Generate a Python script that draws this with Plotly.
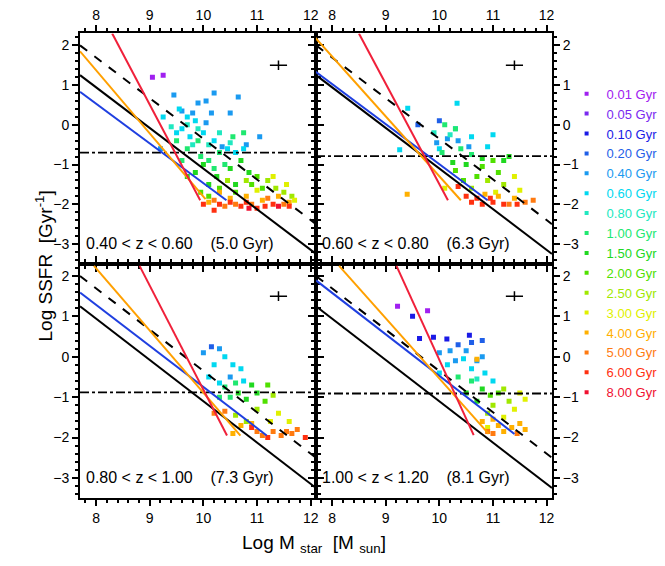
import plotly.graph_objects as go

# ── Age classes (legend) ──────────────────────────────────────────────────────
AGES = ["0.01", "0.05", "0.10", "0.20", "0.40", "0.60", "0.80", "1.00",
        "1.50", "2.00", "2.50", "3.00", "4.00", "5.00", "6.00", "8.00"]
COLORS = ["#a020f0", "#7a2af0", "#1a1ae6", "#1f5fe8", "#1a9af0", "#00d8f0",
          "#20e8c0", "#20e870", "#20d820", "#50e000", "#a0e800", "#e0f000",
          "#ffb000", "#ff7a10", "#ff3010", "#f01030"]

# ── Galaxies per panel: (log Mstar, log SSFR, age index) ──────────────────────
P1 = [(9.05,1.2,0),(9.25,1.25,0),
      (9.45,0.75,4),(9.9,0.55,4),(10.05,0.6,4),(10.2,0.8,4),(10.65,0.7,4),(9.8,0.3,4),(10.15,0.3,4),
      (10.5,0.3,4),(9.6,0.35,4),(10.05,0.05,4),(11.05,-0.3,4),(10.8,-0.5,4),(10.35,-0.55,4),(9.2,-0.6,4),
      (9.25,0.2,5),(9.55,0.4,5),(9.7,0.2,5),(9.85,0.1,5),(9.6,-0.1,5),(9.75,-0.3,5),(10.0,-0.2,5),
      (10.2,-0.4,5),(10.45,-0.6,5),(10.6,-0.7,5),(10.75,-0.6,5),(9.5,-0.2,5),
      (9.4,-0.05,6),(9.7,0.0,6),(9.9,-0.1,6),(10.1,-0.5,6),(10.3,-0.2,6),(10.5,-0.45,6),(9.8,-0.5,6),
      (9.5,-0.4,7),(9.7,-0.6,7),(9.95,-0.8,7),(10.1,-0.9,7),(10.3,-0.7,7),(10.55,-0.3,7),(10.75,-0.2,7),
      (9.6,-0.9,7),(9.9,-0.4,7),(10.2,-1.1,7),(10.4,-1.0,7),
      (10.0,-1.0,8),(10.25,-1.3,8),(10.5,-1.1,8),(10.7,-0.9,8),(10.85,-1.2,8),(9.85,-1.2,8),(10.1,-1.5,8),
      (10.6,-1.5,8),(9.7,-1.3,8),
      (10.3,-1.6,9),(10.6,-1.7,9),(10.9,-1.5,9),(11.0,-1.3,9),(10.1,-1.8,9),(9.95,-1.7,9),(11.1,-1.6,9),
      (10.8,-1.4,10),(11.2,-1.4,10),(11.35,-1.6,10),(11.5,-1.7,10),(10.45,-1.4,10),(11.65,-1.8,10),
      (11.3,-1.3,11),(11.55,-1.5,11),(11.0,-1.65,11),(11.7,-1.9,11),
      (10.1,-1.95,12),(10.5,-1.85,12),(10.8,-1.8,12),(11.1,-1.9,12),(11.4,-1.8,12),(11.6,-1.95,12),(10.3,-1.7,12),
      (10.2,-1.9,13),(10.6,-2.0,13),(10.9,-2.0,13),(11.2,-1.85,13),(11.5,-2.0,13),(10.4,-2.05,13),
      (10.0,-2.0,14),(10.3,-2.0,14),(10.7,-2.05,14),(11.0,-2.1,14),(11.3,-2.0,14),(11.6,-2.05,14),
      (10.2,-2.15,14),(10.5,-1.95,14),(10.8,-1.95,14),(11.15,-2.05,14),
      (10.85,-2.1,15),(11.4,-2.05,15)]
P2 = [(9.41,0.42,5),(10.33,0.54,5),(9.26,-0.63,5),(10.3,-0.1,5),(10.6,-0.3,5),(10.0,-0.6,5),(11.0,-0.25,5),(10.9,-0.55,5),
      (9.6,0.0,3),(10.0,0.1,3),(10.15,-0.35,4),(10.35,-0.4,4),(9.95,-0.45,4),(10.55,-0.55,4),
      (10.1,0.0,7),(10.3,-0.1,7),(10.2,-0.25,6),(9.9,-0.2,6),(10.4,-0.6,7),(10.6,-0.75,7),(10.05,-0.7,7),
      (10.8,-0.85,8),(10.25,-0.95,8),
      (10.5,-1.0,8),(10.8,-1.05,9),(11.0,-0.9,9),(10.3,-1.15,9),(10.7,-1.3,9),(11.1,-1.2,9),(11.3,-0.8,8),
      (10.45,-1.4,9),(11.2,-0.9,8),
      (10.9,-1.4,10),(11.2,-1.5,10),(11.4,-1.3,11),(11.5,-1.65,11),(10.6,-1.6,10),(11.05,-1.7,11),(10.1,-1.6,11),
      (11.1,-1.8,12),(11.4,-1.85,12),(11.6,-1.95,13),(11.75,-1.9,13),(11.3,-2.0,13),(9.4,-1.75,12),(10.85,-1.75,12),
      (10.6,-1.95,14),(10.8,-2.0,14),(11.0,-1.95,14),(11.2,-2.0,14),(10.5,-1.8,14),(10.7,-1.85,14),
      (10.95,-1.85,14),(11.45,-2.0,14),(10.35,-1.55,14)]
P3 = [(10.0,0.1,4),(10.15,0.25,3),(10.3,0.2,4),(10.4,0.0,5),(10.55,-0.2,5),(10.2,-0.2,5),(10.1,-0.5,5),
      (10.5,-0.5,4),(10.3,-0.65,5),(10.7,-0.3,5),(10.75,-0.6,5),
      (10.4,-0.75,7),(10.6,-0.65,7),(10.9,-0.7,8),(11.0,-0.9,8),(11.2,-0.7,9),(10.5,-1.0,7),(10.8,-1.05,8),
      (10.65,-0.9,8),(11.15,-1.1,9),(10.3,-1.0,7),
      (11.3,-0.95,10),(11.0,-1.3,10),(11.4,-1.4,11),(10.6,-1.45,10),(11.6,-1.6,11),(11.25,-1.6,11),(10.8,-1.6,10),
      (10.4,-1.35,13),(10.7,-1.7,12),(11.0,-1.85,13),(11.3,-1.85,13),(11.55,-1.85,13),(11.75,-1.8,13),
      (11.45,-1.95,13),(10.9,-1.65,12),(10.2,-1.4,13),(10.55,-1.9,12),(11.65,-1.9,13),(11.1,-1.95,13),
      (11.9,-2.0,14),(11.2,-2.0,14),(10.9,-1.75,14)]
P4 = [(9.22,1.25,0),(9.78,1.14,0),
      (9.5,1.0,2),(9.63,0.45,2),(9.89,0.48,2),(10.14,0.44,2),(10.56,0.53,2),(10.8,0.4,3),
      (10.35,0.3,3),(10.0,0.1,4),(10.2,0.15,4),(10.6,0.35,3),(10.5,0.15,4),(10.8,0.0,4),(10.3,-0.1,4),(10.7,-0.1,4),
      (10.45,-0.05,5),(10.15,-0.2,5),(10.6,-0.3,5),(10.85,-0.4,5),(10.0,-0.4,5),(11.0,-0.6,5),(10.7,-0.55,6),
      (10.35,-0.5,7),(10.6,-0.6,7),(10.8,-0.8,8),(10.5,-0.9,8),(10.95,-0.95,9),(11.1,-0.9,9),(10.7,-1.1,8),
      (11.2,-0.8,10),(11.5,-0.9,11),(11.3,-1.1,10),(11.0,-1.2,10),(11.4,-1.3,11),(11.6,-1.05,11),
      (10.9,-1.4,10),(11.2,-1.5,11),(10.9,-1.75,11),
      (10.8,-1.6,12),(11.1,-1.7,12),(11.35,-1.75,12),(11.6,-1.8,12),(11.5,-1.65,12),(11.0,-1.55,12),(11.2,-1.85,12),
      (11.0,-1.9,13),(11.45,-1.9,13),(10.9,-1.85,13),(10.7,-0.06,12)]
PANELS = [P1, P2, P3, P4]

LABELS = ["0.40 < z < 0.60    (5.0 Gyr)", "0.60 < z < 0.80    (6.3 Gyr)",
          "0.80 < z < 1.00    (7.3 Gyr)", "1.00 < z < 1.20    (8.1 Gyr)"]
DASHDOT_Y = [-0.70, -0.79, -0.88, -0.91]

# reference relations (same in every panel)
SOLID_X, SOLID_Y = [7.7, 12.1], [1.25, -3.25]
DASH_X, DASH_Y = [7.7, 12.1], [2.0, -2.5]
# per-panel fitted lines: ([x0, x1], [y0, y1])
BLUE = [([7.7, 10.43], [0.83, -1.9]), ([7.65, 10.9], [1.38, -1.9]),
        ([7.7, 11.18], [1.59, -1.95]), ([7.7, 11.4], [1.89, -1.91])]
ORANGE = [([7.7, 10.04], [1.85, -1.87]), ([7.65, 10.4], [2.25, -1.9]),
          ([7.96, 10.69], [2.25, -1.95]), ([8.13, 10.92], [2.25, -1.91])]
RED = [([8.3, 9.94], [2.3, -1.9]), ([8.5, 10.16], [2.3, -1.9]),
       ([8.81, 10.44], [2.25, -1.95]), ([9.2, 10.64], [2.25, -1.94])]
CROSS_X, CROSS_Y, CROSS_EX, CROSS_EY = [11.4], [1.5], [0.16], [0.12]

FONT = "Liberation Sans, Arial, sans-serif"
XD = [[0.1083, 0.4632], [0.4632, 0.818]]
YD = [[0.548, 0.955], [0.134, 0.548]]

fig = go.Figure()
for i, pts in enumerate(PANELS):
    n = i + 1
    xa, ya = ("x", "y") if n == 1 else (f"x{n}", f"y{n}")
    for k in range(len(AGES)):
        sel = [p for p in pts if p[2] == k]
        if not sel:
            continue
        fig.add_trace(go.Scatter(
            x=[p[0] for p in sel], y=[p[1] for p in sel], mode="markers",
            marker=dict(symbol="square", size=5, color=COLORS[k]),
            xaxis=xa, yaxis=ya, showlegend=False, hoverinfo="skip"))
    line_sets = [
        (SOLID_X, SOLID_Y, "black", "solid", 2),
        (DASH_X, DASH_Y, "black", "dash", 2),
        ([7.7, 12.1], [DASHDOT_Y[i]] * 2, "black", "dashdot", 1.8),
        (BLUE[i][0], BLUE[i][1], "#1f3fe0", "solid", 2),
        (ORANGE[i][0], ORANGE[i][1], "#ffa000", "solid", 2),
        (RED[i][0], RED[i][1], "#f0203a", "solid", 2),
    ]
    for lx, ly, c, d, w in line_sets:
        fig.add_trace(go.Scatter(x=lx, y=ly, mode="lines",
                                 line=dict(color=c, dash=d, width=w),
                                 xaxis=xa, yaxis=ya, showlegend=False, hoverinfo="skip"))
    # error cross drawn as two short lines
    fig.add_trace(go.Scatter(
        x=[CROSS_X[0] - CROSS_EX[0], CROSS_X[0] + CROSS_EX[0], None, CROSS_X[0], CROSS_X[0]],
        y=[CROSS_Y[0], CROSS_Y[0], None, CROSS_Y[0] - CROSS_EY[0], CROSS_Y[0] + CROSS_EY[0]],
        mode="lines", line=dict(color="black", width=1.5),
        xaxis=xa, yaxis=ya, showlegend=False, hoverinfo="skip"))
    fig.add_annotation(x=7.78, y=-2.98, xref=xa, yref=ya, text=LABELS[i],
                       showarrow=False, xanchor="left", yanchor="middle",
                       font=dict(size=16, color="black", family=FONT))

# legend-only entries (placed outside the visible range)
for k, (a, c) in enumerate(zip(AGES, COLORS)):
    fig.add_trace(go.Scatter(
        x=[0.0], y=[0.0], mode="markers",
        marker=dict(symbol="square", size=4, color=c),
        name=f"<span style='color:{c}'>{a} Gyr</span>", hoverinfo="skip"))

axis_common = dict(showgrid=False, zeroline=False, showline=True, automargin=False,
                   linecolor="black", linewidth=2, ticks="outside", ticklen=6,
                   tickwidth=1.5, tickcolor="black", mirror="allticks",
                   tickfont=dict(size=14, color="black", family=FONT))
layout_axes = {}
for i in range(4):
    n = i + 1
    col, row = i % 2, i // 2
    xk = "xaxis" if n == 1 else f"xaxis{n}"
    yk = "yaxis" if n == 1 else f"yaxis{n}"
    ax_x = dict(axis_common, range=[7.7, 12.1], dtick=1, domain=XD[col],
                anchor="y" if n == 1 else f"y{n}", side="top" if row == 0 else "bottom",
                minor=dict(dtick=0.2, ticklen=3, ticks="outside"))
    ax_y = dict(axis_common, range=[-3.5, 2.3], dtick=1, domain=YD[row],
                anchor="x" if n == 1 else f"x{n}", side="left" if col == 0 else "right",
                minor=dict(dtick=0.2, ticklen=3, ticks="outside"))
    layout_axes[xk] = ax_x
    layout_axes[yk] = ax_y

fig.update_layout(
    width=665, height=566, plot_bgcolor="white", paper_bgcolor="white",
    margin=dict(l=0, r=0, t=0, b=0, autoexpand=False),
    font=dict(family=FONT, color="black"),
    legend=dict(x=0.84, y=0.875, xanchor="left", yanchor="top",
                font=dict(size=13, family=FONT), itemwidth=30,
                bgcolor="rgba(0,0,0,0)", tracegroupgap=0),
    **layout_axes,
)
fig.add_annotation(x=0.033, y=0.545, xref="paper", yref="paper", textangle=-90,
                   text="Log SSFR  [Gyr<sup>-1</sup>]", showarrow=False,
                   font=dict(size=19, family=FONT))
fig.add_annotation(x=0.46, y=0.028, xref="paper", yref="paper",
                   text="Log M <sub>star</sub>  [M <sub>sun</sub>]", showarrow=False,
                   font=dict(size=19, family=FONT))

fig.write_html("out.html")
